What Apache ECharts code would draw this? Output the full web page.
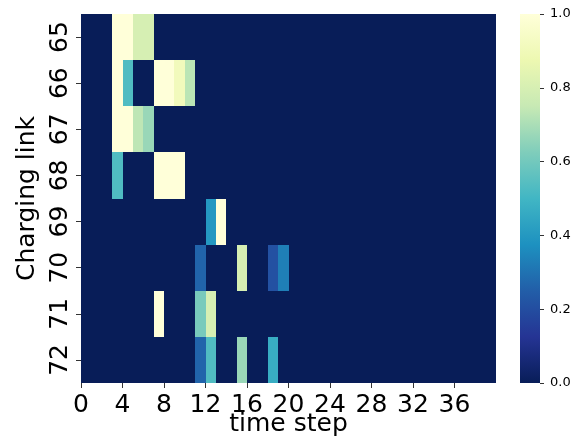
<!DOCTYPE html>
<html>
<head>
<meta charset="utf-8">
<script src="https://cdn.jsdelivr.net/npm/echarts@6/dist/echarts.min.js"></script>
<style>
html,body{margin:0;padding:0;background:#fff;}
#c{width:576px;height:443px;}
</style>
</head>
<body>
<div id="c"></div>
<script>
// time steps 0..39
var timeSteps = [];
for (var t = 0; t < 40; t++) timeSteps.push(String(t));
var links = ['65', '66', '67', '68', '69', '70', '71', '72'];
var xTickValues = [0, 4, 8, 12, 16, 20, 24, 28, 32, 36];
var cbarTicks = [0, 0.2, 0.4, 0.6, 0.8, 1.0];

var link65 = [0, 0, 0, 1.0, 1.0, 0.8, 0.8, 0, 0, 0, 0, 0, 0, 0, 0, 0, 0, 0, 0, 0, 0, 0, 0, 0, 0, 0, 0, 0, 0, 0, 0, 0, 0, 0, 0, 0, 0, 0, 0, 0];
var link66 = [0, 0, 0, 1.0, 0.53, 0, 0, 1.0, 1.0, 0.91, 0.73, 0, 0, 0, 0, 0, 0, 0, 0, 0, 0, 0, 0, 0, 0, 0, 0, 0, 0, 0, 0, 0, 0, 0, 0, 0, 0, 0, 0, 0];
var link67 = [0, 0, 0, 1.0, 1.0, 0.735, 0.67, 0, 0, 0, 0, 0, 0, 0, 0, 0, 0, 0, 0, 0, 0, 0, 0, 0, 0, 0, 0, 0, 0, 0, 0, 0, 0, 0, 0, 0, 0, 0, 0, 0];
var link68 = [0, 0, 0, 0.53, 0, 0, 0, 1.0, 1.0, 1.0, 0, 0, 0, 0, 0, 0, 0, 0, 0, 0, 0, 0, 0, 0, 0, 0, 0, 0, 0, 0, 0, 0, 0, 0, 0, 0, 0, 0, 0, 0];
var link69 = [0, 0, 0, 0, 0, 0, 0, 0, 0, 0, 0, 0, 0.40, 1.0, 0, 0, 0, 0, 0, 0, 0, 0, 0, 0, 0, 0, 0, 0, 0, 0, 0, 0, 0, 0, 0, 0, 0, 0, 0, 0];
var link70 = [0, 0, 0, 0, 0, 0, 0, 0, 0, 0, 0, 0.265, 0, 0, 0, 0.80, 0, 0, 0.21, 0.33, 0, 0, 0, 0, 0, 0, 0, 0, 0, 0, 0, 0, 0, 0, 0, 0, 0, 0, 0, 0];
var link71 = [0, 0, 0, 0, 0, 0, 0, 1.0, 0, 0, 0, 0.61, 0.80, 0, 0, 0, 0, 0, 0, 0, 0, 0, 0, 0, 0, 0, 0, 0, 0, 0, 0, 0, 0, 0, 0, 0, 0, 0, 0, 0];
var link72 = [0, 0, 0, 0, 0, 0, 0, 0, 0, 0, 0, 0.265, 0.53, 0, 0, 0.67, 0, 0, 0.47, 0, 0, 0, 0, 0, 0, 0, 0, 0, 0, 0, 0, 0, 0, 0, 0, 0, 0, 0, 0, 0];

var rows = [link65, link66, link67, link68, link69, link70, link71, link72];
var data = [];
rows.forEach(function (row, yi) {
  row.forEach(function (v, xi) { data.push([xi, yi, v]); });
});

var YlGnBu = ['#081d58', '#253494', '#225ea8', '#1d91c0', '#41b6c4', '#7fcdbb', '#c7e9b4', '#edf8b1', '#ffffd9'];
var FONT = 'DejaVu Sans';

var cbarStops = YlGnBu.map(function (c, i) {
  return {offset: 1 - i / (YlGnBu.length - 1), color: c};
}).reverse();

var hidden = {show: false};
var chart = echarts.init(document.getElementById('c'), null, {renderer: 'canvas'});
chart.setOption({
  animation: false,
  backgroundColor: '#fff',
  textStyle: {fontFamily: FONT},
  grid: [
    {left: 81, top: 14, width: 415, height: 369, containLabel: false, outerBoundsMode: 'none',
      show: true, backgroundColor: '#081d58', borderWidth: 0},
    {left: 520, top: 14, width: 20, height: 369, containLabel: false, outerBoundsMode: 'none',
      show: true, borderWidth: 0,
      backgroundColor: new echarts.graphic.LinearGradient(0, 0, 0, 1, cbarStops)}
  ],
  xAxis: [
    {type: 'category', gridIndex: 0, data: timeSteps, show: false},
    {type: 'value', gridIndex: 0, position: 'bottom', min: 0, max: 40, interval: 4,
      name: 'time step', nameLocation: 'middle', nameGap: 29, nameMoveOverlap: false,
      nameTextStyle: {fontSize: 25, color: '#000', fontFamily: FONT},
      axisLine: {show: false},
      axisTick: {show: true, length: 5, lineStyle: {color: '#333', width: 1}, customValues: xTickValues},
      axisLabel: {fontSize: 25, color: '#000', margin: 10, fontFamily: FONT, customValues: xTickValues},
      splitLine: {show: false}},
    {type: 'category', gridIndex: 1, data: [''], show: false,
      axisLine: hidden, axisTick: hidden, axisLabel: hidden, splitLine: hidden}
  ],
  yAxis: [
    {type: 'category', gridIndex: 0, data: links, inverse: true,
      name: 'Charging link', nameLocation: 'middle', nameGap: 40,
      nameTextStyle: {fontSize: 25, color: '#000', fontFamily: FONT},
      axisLine: {show: false},
      axisTick: {show: true, alignWithLabel: true, length: 5, lineStyle: {color: '#333', width: 1}},
      axisLabel: {fontSize: 25, color: '#000', rotate: 90, margin: 8, fontFamily: FONT},
      splitLine: {show: false}},
    {type: 'value', gridIndex: 1, position: 'right', min: 0, max: 1, interval: 0.2,
      axisLine: {show: false},
      axisTick: {show: true, length: 4, lineStyle: {color: '#333', width: 1}},
      axisLabel: {fontSize: 13, color: '#000', margin: 10, fontFamily: FONT,
        formatter: function (v) { return v.toFixed(1); }},
      splitLine: {show: false}, splitArea: {show: false}, minorTick: {show: false}}
  ],
  visualMap: {
    type: 'continuous', min: 0, max: 1, show: false, dimension: 2,
    inRange: {color: YlGnBu},
    seriesIndex: 0
  },
  series: [{
    type: 'custom', xAxisIndex: 0, yAxisIndex: 0, data: data,
    encode: {x: 0, y: 1},
    renderItem: function (params, api) {
      var c = api.coord([api.value(0), api.value(1)]);
      var s = api.size([1, 1]);
      var col = api.visual('color');
      var x0 = Math.round(c[0] - s[0] / 2), x1 = Math.round(c[0] + s[0] / 2);
      var y0 = Math.round(c[1] - s[1] / 2), y1 = Math.round(c[1] + s[1] / 2);
      return {
        type: 'rect',
        shape: {x: x0, y: y0, width: x1 - x0, height: y1 - y0},
        style: {fill: col}
      };
    },
    silent: true
  }]
});
</script>
</body>
</html>
